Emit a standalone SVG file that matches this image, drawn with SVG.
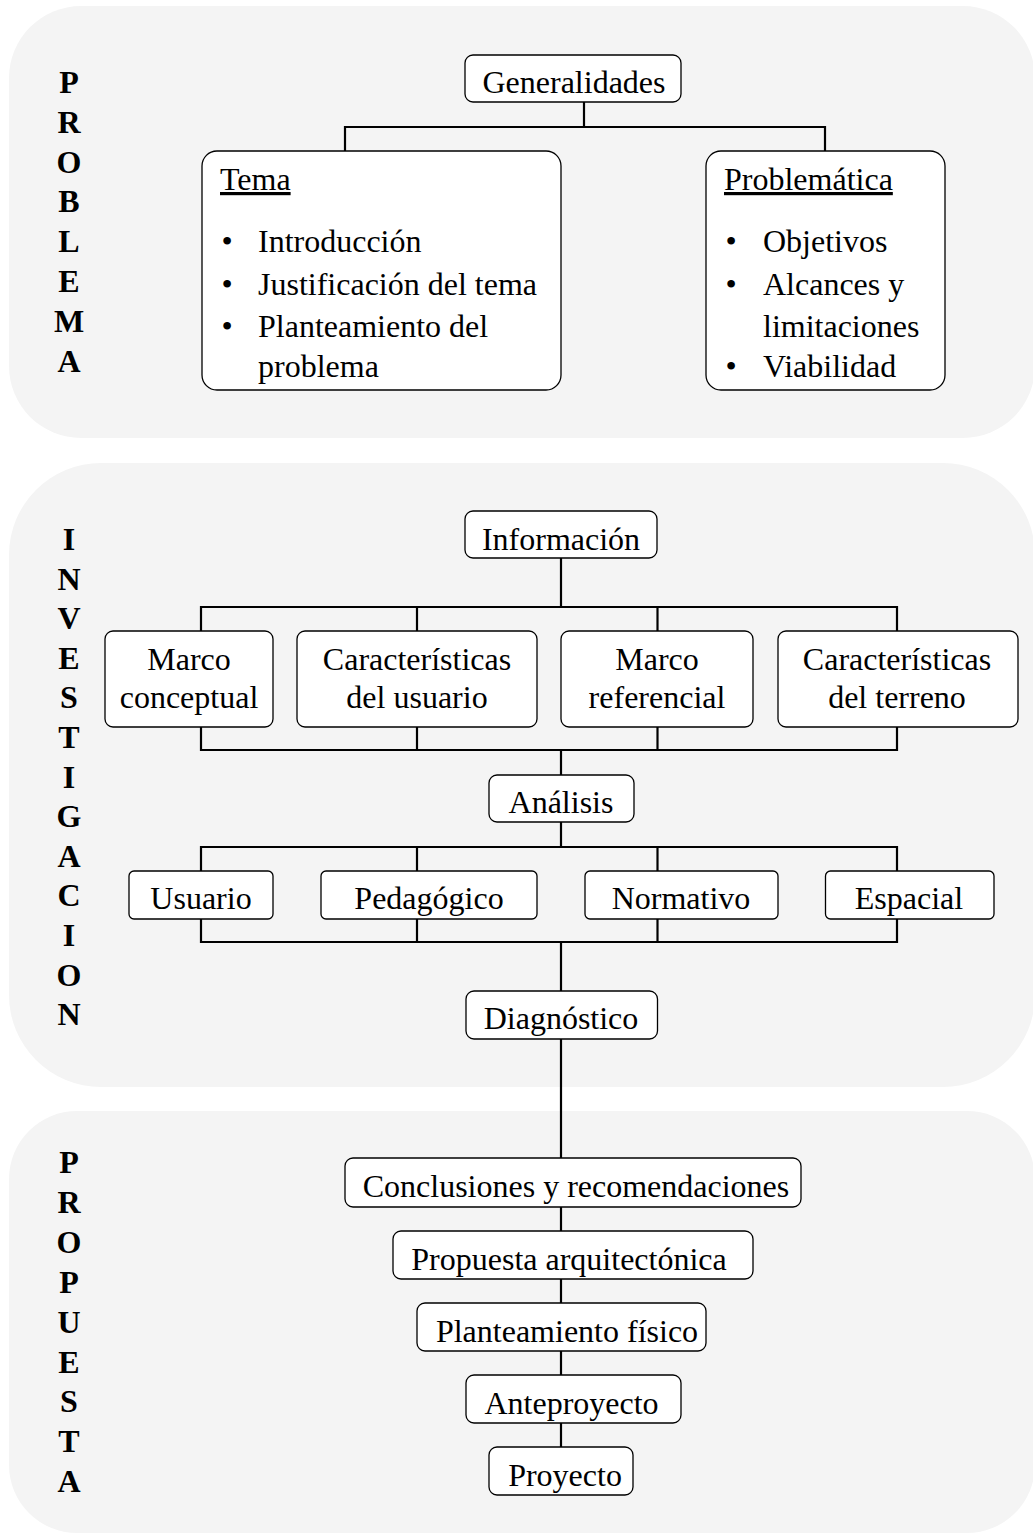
<svg xmlns="http://www.w3.org/2000/svg" width="1033" height="1535" viewBox="0 0 1033 1535">
<style>
.panel{fill:#f4f4f4}
.box{fill:#fff;stroke:#000;stroke-width:1.3}
.t{font-family:"Liberation Serif","Times New Roman",serif;font-size:32px;fill:#000}
.m{text-anchor:middle}
.v{font-weight:bold;text-anchor:middle}
.conn{stroke:#000;stroke-width:2.2;fill:none}
</style>
<rect width="1033" height="1535" fill="#fff"/>
<g id="panels">
<rect class="panel" x="9" y="6" width="1026" height="432" rx="72"/>
<rect class="panel" x="9" y="463" width="1026" height="624" rx="92"/>
<rect class="panel" x="9" y="1111" width="1026" height="422" rx="68"/>
</g>
<g id="side-labels">
<text class="t v"><tspan x="69" y="93">P</tspan><tspan x="69" dy="39.8">R</tspan><tspan x="69" dy="39.8">O</tspan><tspan x="69" dy="39.8">B</tspan><tspan x="69" dy="39.8">L</tspan><tspan x="69" dy="39.8">E</tspan><tspan x="69" dy="39.8">M</tspan><tspan x="69" dy="39.8">A</tspan></text>
<text class="t v"><tspan x="69" y="550">I</tspan><tspan x="69" dy="39.6">N</tspan><tspan x="69" dy="39.6">V</tspan><tspan x="69" dy="39.6">E</tspan><tspan x="69" dy="39.6">S</tspan><tspan x="69" dy="39.6">T</tspan><tspan x="69" dy="39.6">I</tspan><tspan x="69" dy="39.6">G</tspan><tspan x="69" dy="39.6">A</tspan><tspan x="69" dy="39.6">C</tspan><tspan x="69" dy="39.6">I</tspan><tspan x="69" dy="39.6">O</tspan><tspan x="69" dy="39.6">N</tspan></text>
<text class="t v"><tspan x="69" y="1173">P</tspan><tspan x="69" dy="39.9">R</tspan><tspan x="69" dy="39.9">O</tspan><tspan x="69" dy="39.9">P</tspan><tspan x="69" dy="39.9">U</tspan><tspan x="69" dy="39.9">E</tspan><tspan x="69" dy="39.9">S</tspan><tspan x="69" dy="39.9">T</tspan><tspan x="69" dy="39.9">A</tspan></text>
</g>
<g id="connectors">
<path class="conn" d="M584,102V127M345,151V127H825V151"/>
<path class="conn" d="M561,558V607M201,631V607H897V631M417,607V631M657.5,607V631"/>
<path class="conn" d="M201,727V750H897V727M417,727V750M657.5,727V750M561,750V775"/>
<path class="conn" d="M561,822V847M201,871V847H897V871M417,847V871M657.5,847V871"/>
<path class="conn" d="M201,919V942H897V919M417,919V942M657.5,919V942M561,942V991"/>
<path class="conn" d="M561,1039V1158M561,1207V1231M561,1279V1303M561,1351V1375M561,1423V1447"/>
</g>
<g id="n-generalidades"><rect class="box" x="465" y="55" width="216" height="47" rx="8"/><text class="t m" x="574" y="93">Generalidades</text></g>
<g id="n-tema"><rect class="box" x="202" y="151" width="359" height="239" rx="15"/>
<text class="t" x="220" y="190" text-decoration="underline">Tema</text>
<text class="t m" x="227" y="252">•</text><text class="t" x="258" y="252">Introducción</text>
<text class="t m" x="227" y="295">•</text><text class="t" x="258" y="295">Justificación del tema</text>
<text class="t m" x="227" y="337">•</text><text class="t" x="258" y="337">Planteamiento del</text>
<text class="t" x="258" y="377">problema</text></g>
<g id="n-problematica"><rect class="box" x="706" y="151" width="239" height="239" rx="15"/>
<text class="t" x="724" y="190" text-decoration="underline">Problemática</text>
<text class="t m" x="731" y="252">•</text><text class="t" x="763" y="252">Objetivos</text>
<text class="t m" x="731" y="295">•</text><text class="t" x="763" y="295">Alcances y</text>
<text class="t" x="763" y="337">limitaciones</text>
<text class="t m" x="731" y="377">•</text><text class="t" x="763" y="377">Viabilidad</text></g>
<g id="n-informacion"><rect class="box" x="465" y="511" width="192" height="47" rx="8"/><text class="t m" x="561" y="550">Información</text></g>
<g id="n-marco-conceptual"><rect class="box" x="105" y="631" width="168" height="96" rx="8"/><text class="t m" x="189" y="670">Marco</text><text class="t m" x="189" y="708">conceptual</text></g>
<g id="n-caract-usuario"><rect class="box" x="297" y="631" width="240" height="96" rx="8"/><text class="t m" x="417" y="670">Características</text><text class="t m" x="417" y="708">del usuario</text></g>
<g id="n-marco-referencial"><rect class="box" x="561" y="631" width="192" height="96" rx="8"/><text class="t m" x="657" y="670">Marco</text><text class="t m" x="657" y="708">referencial</text></g>
<g id="n-caract-terreno"><rect class="box" x="778" y="631" width="240" height="96" rx="8"/><text class="t m" x="897" y="670">Características</text><text class="t m" x="897" y="708">del terreno</text></g>
<g id="n-analisis"><rect class="box" x="489" y="775" width="145" height="47" rx="8"/><text class="t m" x="561" y="813">Análisis</text></g>
<g id="n-usuario"><rect class="box" x="129" y="871" width="144" height="48" rx="5"/><text class="t m" x="201" y="909">Usuario</text></g>
<g id="n-pedagogico"><rect class="box" x="321" y="871" width="216" height="48" rx="5"/><text class="t m" x="429" y="909">Pedagógico</text></g>
<g id="n-normativo"><rect class="box" x="585" y="871" width="193" height="48" rx="5"/><text class="t m" x="681" y="909">Normativo</text></g>
<g id="n-espacial"><rect class="box" x="825.5" y="871" width="168.5" height="48" rx="5"/><text class="t m" x="909" y="909">Espacial</text></g>
<g id="n-diagnostico"><rect class="box" x="466" y="991" width="191.5" height="48" rx="8"/><text class="t m" x="561" y="1029">Diagnóstico</text></g>
<g id="n-conclusiones"><rect class="box" x="345" y="1158" width="456" height="49" rx="8"/><text class="t m" x="576" y="1197">Conclusiones y recomendaciones</text></g>
<g id="n-propuesta"><rect class="box" x="393" y="1231" width="360" height="48" rx="8"/><text class="t m" x="569" y="1270">Propuesta arquitectónica</text></g>
<g id="n-planteamiento"><rect class="box" x="417" y="1303" width="289" height="48" rx="8"/><text class="t m" x="567" y="1342">Planteamiento físico</text></g>
<g id="n-anteproyecto"><rect class="box" x="466" y="1375" width="215" height="48" rx="8"/><text class="t m" x="571.5" y="1414">Anteproyecto</text></g>
<g id="n-proyecto"><rect class="box" x="489" y="1447" width="144" height="48" rx="8"/><text class="t m" x="565" y="1486">Proyecto</text></g>
</svg>
